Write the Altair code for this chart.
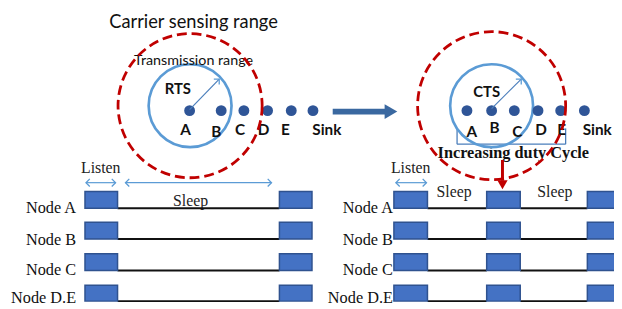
import altair as alt
import pandas as pd

# ---------------- data (reference pixel coordinates) ----------------
# range circles: centre x, centre y, diameter, kind
circle_cx = [192.5, 192.5, 498, 498]
circle_cy = [105, 105, 105, 105]
circle_d = [146, 84, 150, 84]
circle_kind = ["carrier", "tx", "carrier", "tx"]

# nodes
node_names = ["A", "B", "C", "D", "E", "Sink"]
dots_left_x = [192, 224, 247, 271, 295, 317]
dots_right_x = [473, 498, 521, 545, 568, 592]
dots_y = 110
labels_left_x = [188, 219, 243, 267, 289, 331]
labels_left_y = [130, 132, 130, 130, 130, 130]
labels_right_x = [478, 501, 524, 548, 569, 605]
labels_right_y = [132, 128, 132, 130, 130, 130]

# timelines
rows = ["Node A", "Node B", "Node C", "Node D.E"]
row_top = [192, 223, 255, 287]
row_bottom = [209, 240, 272, 303]
row_label_y = [209, 241, 272, 300]
blocks_left = [(86, 119), (283, 316)]
blocks_right = [(399, 433), (493, 527), (595, 629)]

# ---------------- build tables ----------------
X = alt.X("x:Q", scale=alt.Scale(domain=[8, 622], nice=False, zero=False), axis=None)
Y = alt.Y("y:Q", scale=alt.Scale(domain=[8, 309], nice=False, zero=False, reverse=True), axis=None)

circles = pd.DataFrame({"x": circle_cx, "y": circle_cy, "s": [d * d for d in circle_d], "kind": circle_kind})

dots = pd.DataFrame({"x": dots_left_x + dots_right_x, "y": [dots_y] * 12})
labels = pd.DataFrame({"x": labels_left_x + labels_right_x,
                       "y": labels_left_y + labels_right_y,
                       "t": node_names + node_names})

rect_rows = []
line_rows = []
for side in (blocks_left, blocks_right):
    for i in range(len(rows)):
        for (a, b) in side:
            rect_rows.append({"x": a, "x2": b, "y": row_top[i], "y2": row_bottom[i]})
        for j in range(len(side) - 1):
            line_rows.append({"x": side[j][1], "x2": side[j + 1][0], "y": row_bottom[i], "y2": row_bottom[i]})
rects = pd.DataFrame(rect_rows)
lines = pd.DataFrame(line_rows)

node_labels = pd.DataFrame({"x": [77] * 4 + [398] * 4,
                            "y": row_label_y + row_label_y,
                            "t": rows + rows})

sans_titles = pd.DataFrame({"x": [196, 196], "y": [20, 60],
                            "t": ["Carrier sensing range", "Transmission range"],
                            "fs": [18.5, 14.5]})
bold_sans = pd.DataFrame({"x": [180, 493], "y": [88, 91], "t": ["RTS", "CTS"]})
serif_texts = pd.DataFrame({"x": [102, 193, 416, 460, 562],
                            "y": [168, 202, 168, 193, 193],
                            "t": ["Listen", "Sleep", "Listen", "Sleep", "Sleep"]})
bold_serif = pd.DataFrame({"x": [520], "y": [153], "t": ["Increasing duty Cycle"]})

# thin blue arrows (radius arrows and listen/sleep spans)
radius_arrows = pd.DataFrame({"x": [192, 498], "y": [109, 108], "x2": [222, 528], "y2": [78, 78]})
span_arrows = pd.DataFrame({"x": [87, 127, 401], "x2": [117, 275, 432], "y": [183, 183, 183]})
heads = pd.DataFrame({
    "x": [222, 528, 87, 117, 127, 275, 401, 432],
    "y": [78, 78, 183, 183, 183, 183, 183, 183],
    "a": [315, 315, 180, 0, 180, 0, 180, 0],
})

bracket = pd.DataFrame({"x": [463, 463, 573], "x2": [463, 573, 573],
                        "y": [128, 144, 128], "y2": [144, 144, 144]})

big_arrow = pd.DataFrame({"x": [337], "x2": [392], "y": [111]})
big_head = pd.DataFrame({"x": [396], "y": [111]})
red_arrow = pd.DataFrame({"x": [509], "y": [160], "y2": [181]})
red_head = pd.DataFrame({"x": [509], "y": [185]})

BLUE_C = "#5B9BD5"
RED = "#C00000"
DOT = "#2F5597"
BLOCK = "#4472C4"
CHEV = "M-1,-1L0,0L-1,1"

layers = [
    alt.Chart(serif_texts).mark_text(font="Liberation Serif", fontSize=16, color="#222", baseline="middle")
    .encode(x=X, y=Y, text="t:N"),
    alt.Chart(bold_serif).mark_text(font="Liberation Serif", fontSize=16.5, fontWeight="bold", color="#111", baseline="middle")
    .encode(x=X, y=Y, text="t:N"),
    alt.Chart(bracket).mark_rule(color="#4A7EBB", strokeWidth=1.3)
    .encode(x=X, y=Y, x2="x2:Q", y2="y2:Q"),
    alt.Chart(circles[circles.kind == "tx"]).mark_point(shape="circle", filled=False, color=BLUE_C, strokeWidth=2.7, opacity=1)
    .encode(x=X, y=Y, size=alt.Size("s:Q", scale=None, legend=None)),
    alt.Chart(dots).mark_point(shape="circle", filled=True, color=DOT, size=121, opacity=1)
    .encode(x=X, y=Y),
    alt.Chart(labels).mark_text(font="Lato", fontSize=15.5, fontWeight="bold", color="#111", baseline="middle")
    .encode(x=X, y=Y, text="t:N"),
    alt.Chart(sans_titles).mark_text(font="Lato", color="#111", baseline="middle")
    .encode(x=X, y=Y, text="t:N", size=alt.Size("fs:Q", scale=None, legend=None)),
    alt.Chart(bold_sans).mark_text(font="Lato", fontSize=15, fontWeight="bold", color="#111", baseline="middle")
    .encode(x=X, y=Y, text="t:N"),
    alt.Chart(radius_arrows).mark_rule(color="#4A7EBB", strokeWidth=1.2)
    .encode(x=X, y=Y, x2="x2:Q", y2="y2:Q"),
    alt.Chart(span_arrows).mark_rule(color=BLUE_C, strokeWidth=1.2)
    .encode(x=X, y=Y, x2="x2:Q"),
    alt.Chart(heads).mark_point(shape=CHEV, filled=False, color=BLUE_C, strokeWidth=1.3, size=60, opacity=1)
    .encode(x=X, y=Y, angle=alt.Angle("a:Q", scale=None)),
    alt.Chart(big_arrow).mark_rule(color="#3A68A0", strokeWidth=6)
    .encode(x=X, y=Y, x2="x2:Q"),
    alt.Chart(big_head).mark_point(shape="triangle-right", filled=True, color="#3A68A0", size=220, opacity=1)
    .encode(x=X, y=Y),
    alt.Chart(lines).mark_rule(color="#111", strokeWidth=2)
    .encode(x=X, y=Y, x2="x2:Q"),
    alt.Chart(rects).mark_rect(color=BLOCK, stroke="#2F528F", strokeWidth=1.5)
    .encode(x=X, y=Y, x2="x2:Q", y2="y2:Q"),
    alt.Chart(node_labels).mark_text(font="Liberation Serif", fontSize=16.5, color="#111", align="right", baseline="middle")
    .encode(x=X, y=Y, text="t:N"),
    alt.Chart(circles[circles.kind == "carrier"]).mark_point(shape="circle", filled=False, color=RED, strokeWidth=2.8,
                                                             strokeDash=[10, 5], opacity=1)
    .encode(x=X, y=Y, size=alt.Size("s:Q", scale=None, legend=None)),
    alt.Chart(red_arrow).mark_rule(color=RED, strokeWidth=3)
    .encode(x=X, y=Y, y2="y2:Q"),
    alt.Chart(red_head).mark_point(shape="triangle-down", filled=True, color=RED, size=110, opacity=1)
    .encode(x=X, y=Y),
]

chart = alt.layer(*layers).properties(
    width=614, height=301, padding=0, autosize=alt.AutoSizeParams(type="none"),
    background="white",
).configure_view(stroke=None)

chart.save("out.html", embed_options={"renderer": "svg", "actions": False})
